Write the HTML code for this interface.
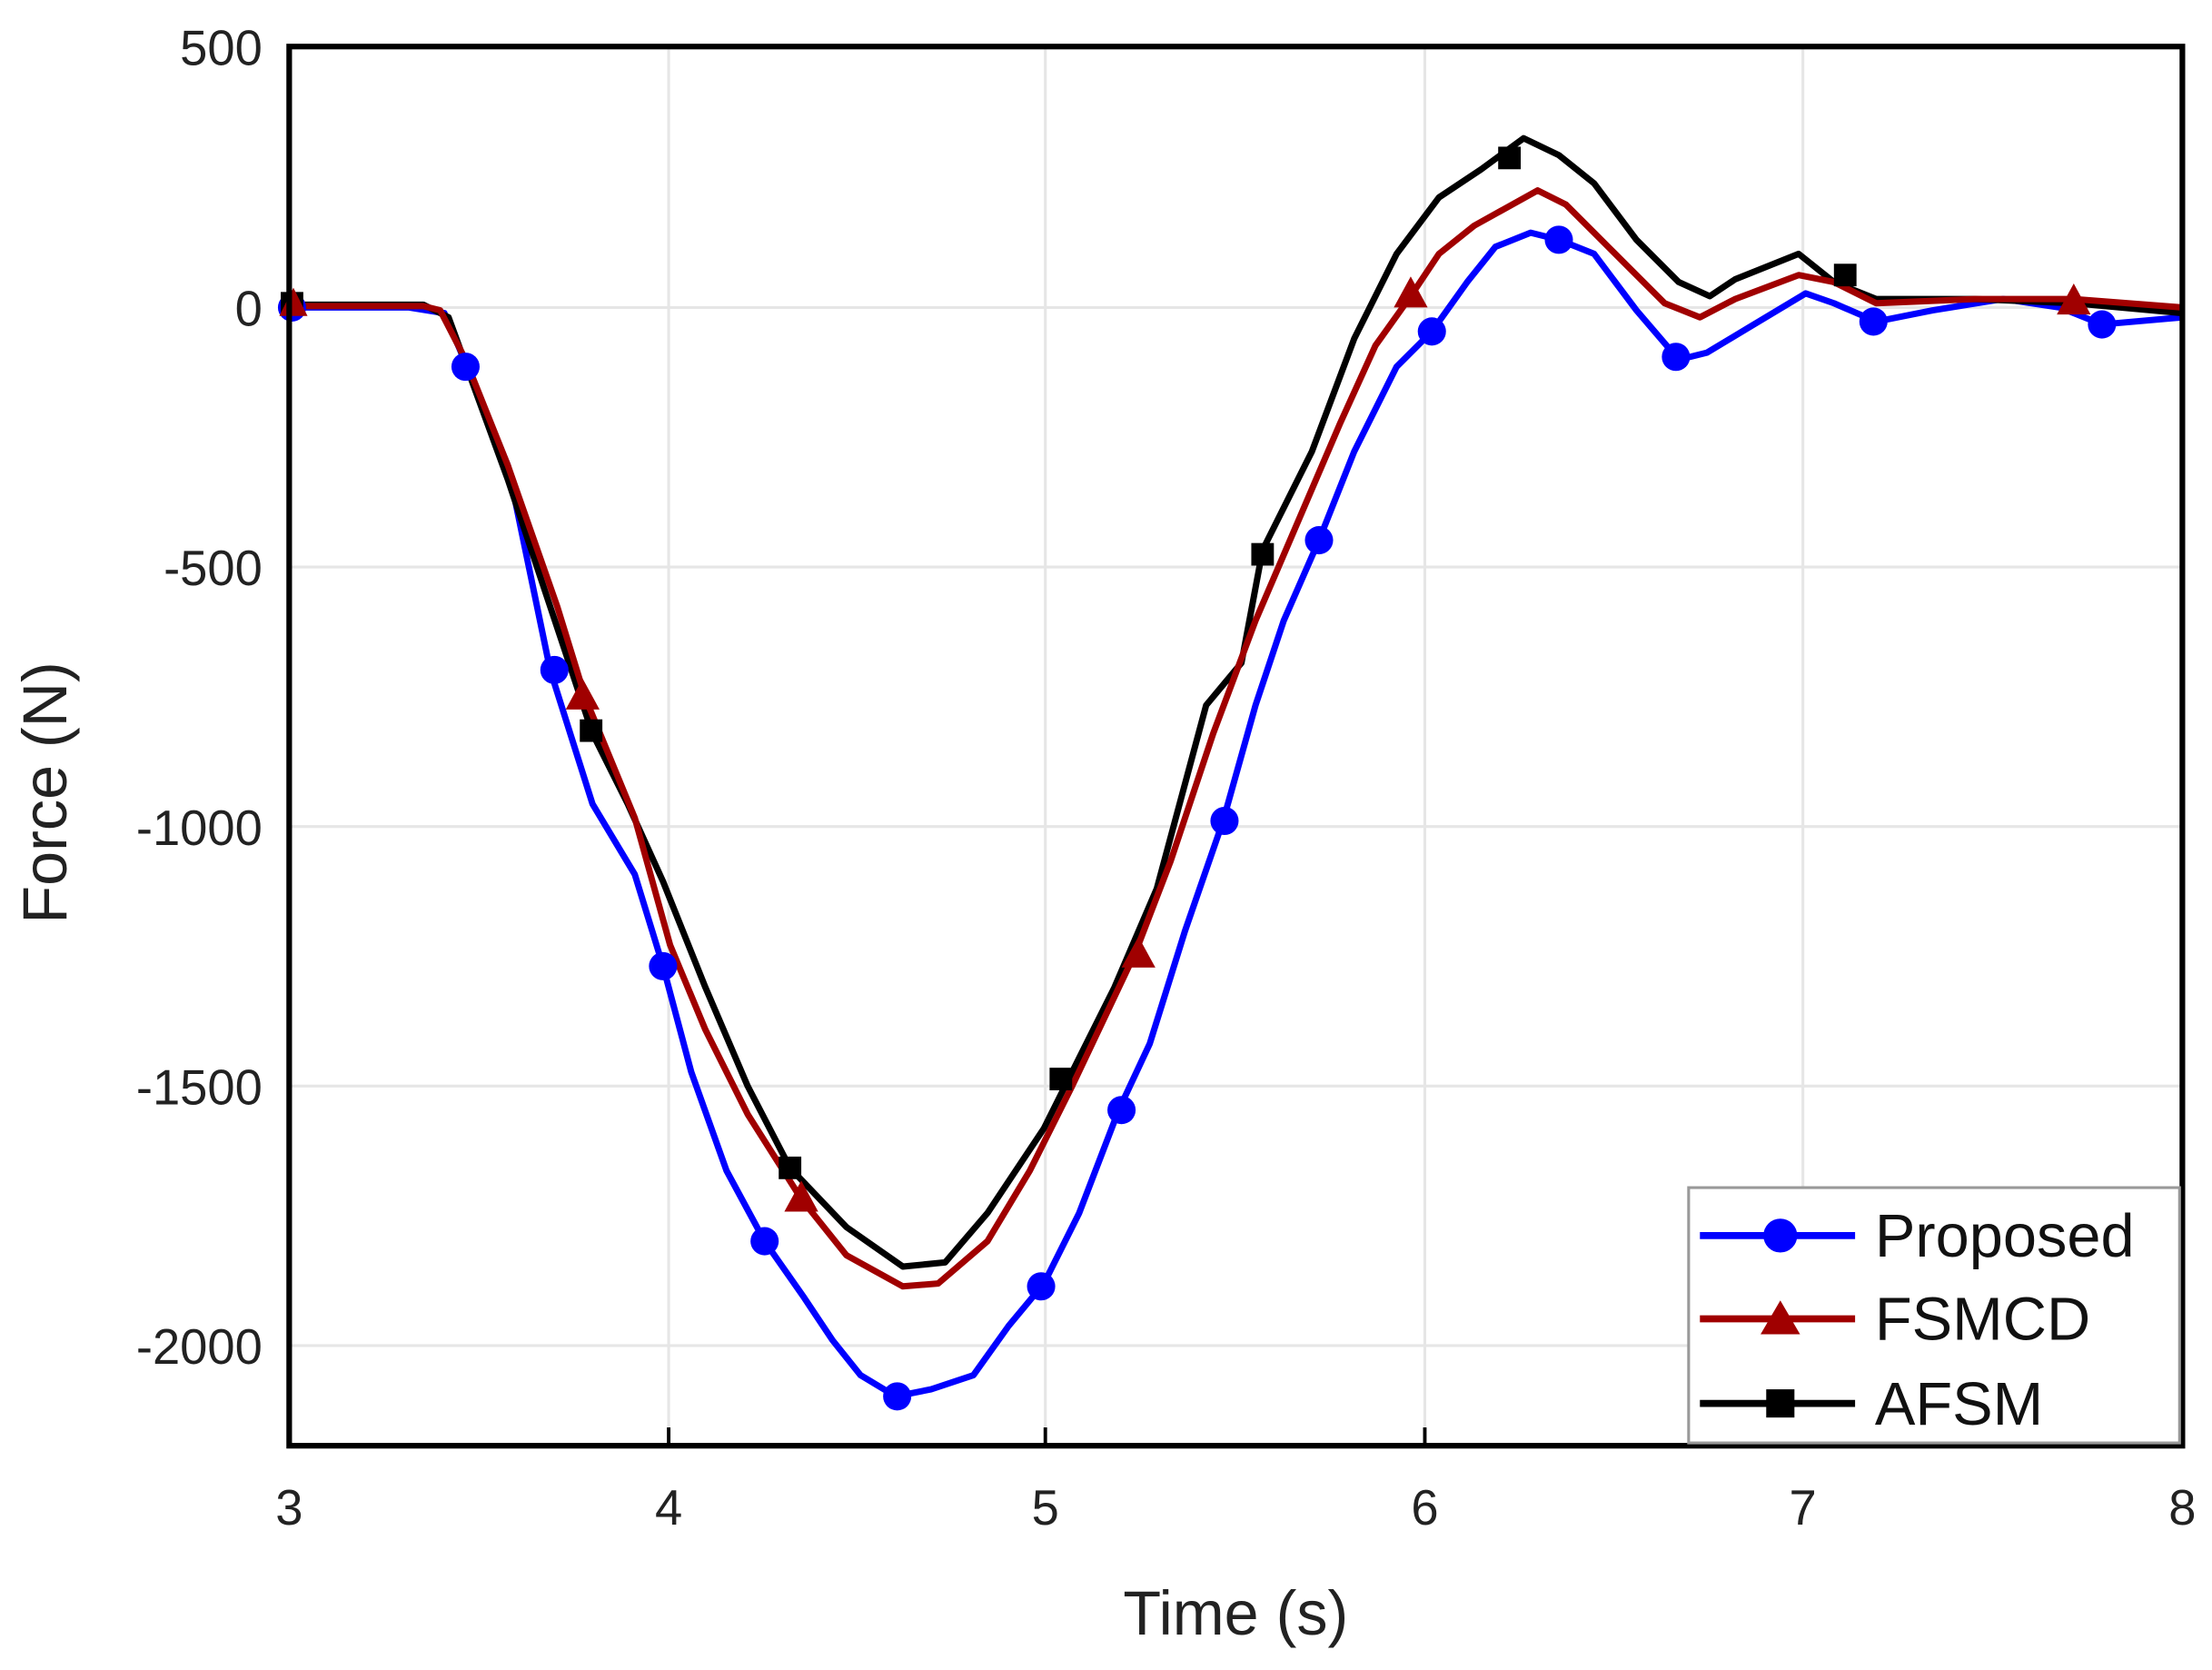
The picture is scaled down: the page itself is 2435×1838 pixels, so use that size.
<!DOCTYPE html>
<html><head><meta charset="utf-8"><style>
html,body{margin:0;padding:0;background:#fff;width:2435px;height:1838px;overflow:hidden}
svg{display:block}
text{font-family:"Liberation Sans",Arial,sans-serif}
</style></head><body>
<svg width="2435" height="1838" viewBox="0 0 1568 1184" preserveAspectRatio="none" xmlns="http://www.w3.org/2000/svg">
<rect width="1568" height="1184" fill="#fff"/>
<g stroke="#e6e6e6" stroke-width="2">
<line x1="474" y1="33" x2="474" y2="1025"/><line x1="741" y1="33" x2="741" y2="1025"/><line x1="1010" y1="33" x2="1010" y2="1025"/><line x1="1278" y1="33" x2="1278" y2="1025"/>
<line x1="205" y1="218" x2="1547" y2="218"/><line x1="205" y1="402" x2="1547" y2="402"/><line x1="205" y1="586" x2="1547" y2="586"/><line x1="205" y1="770" x2="1547" y2="770"/><line x1="205" y1="954" x2="1547" y2="954"/>
</g>
<g fill="none" stroke-width="4.5" stroke-linejoin="round">
<polyline stroke="#0000ff" points="205,218 290,218 315,222 332,262 360,330 390,475 420,570 450,620 470,685 490,760 515,830 542,880 570,920 590,950 610,975 635,990 660,985 690,975 715,940 740,910 765,860 793,787 815,740 840,660 867,582 890,500 910,440 935,383 960,320 990,260 1015,235 1040,200 1060,175 1085,165 1105,170 1130,180 1160,220 1190,255 1210,250 1240,232 1280,208 1300,215 1330,228 1370,220 1420,212 1460,218 1490,230 1547,225"/>
<polyline stroke="#000" points="205,216 300,216 318,225 360,340 420,520 445,570 470,625 500,700 530,770 560,828 600,870 640,898 670,895 700,860 740,800 760,760 790,700 820,630 855,500 880,470 895,390 930,320 960,240 990,180 1020,140 1050,120 1080,98 1105,110 1130,130 1160,170 1190,200 1212,210 1230,198 1275,180 1300,200 1330,212 1400,212 1470,215 1547,222"/>
<polyline stroke="#a00000" points="205,217 300,217 312,220 330,255 360,330 395,430 415,495 450,580 475,670 500,730 530,790 568,850 600,890 640,912 665,910 700,880 730,830 760,770 805,675 830,610 860,520 890,440 920,370 950,300 975,245 1000,210 1020,180 1045,160 1090,135 1110,145 1140,175 1180,215 1205,225 1230,212 1275,195 1300,200 1330,215 1400,212 1470,212 1547,218"/>
</g>
<g fill="#0000ff">
<circle cx="207" cy="218" r="10"/><circle cx="330" cy="260" r="10"/><circle cx="393" cy="475" r="10"/><circle cx="470" cy="685" r="10"/><circle cx="542" cy="880" r="10"/><circle cx="636" cy="990" r="10"/><circle cx="738" cy="912" r="10"/><circle cx="795" cy="787" r="10"/><circle cx="868" cy="582" r="10"/><circle cx="935" cy="383" r="10"/><circle cx="1015" cy="235" r="10"/><circle cx="1105" cy="170" r="10"/><circle cx="1188" cy="253" r="10"/><circle cx="1328" cy="228" r="10"/><circle cx="1490" cy="230" r="10"/>
</g>
<g fill="#000">
<rect x="199" y="207" width="16" height="16"/><rect x="411" y="510" width="16" height="16"/><rect x="552" y="820" width="16" height="16"/><rect x="744" y="757" width="16" height="16"/><rect x="887" y="385" width="16" height="16"/><rect x="1062" y="104" width="16" height="16"/><rect x="1300" y="187" width="16" height="16"/>
</g>
<g fill="#a00000">
<polygon points="208,204 198,224 218,224"/><polygon points="413,481 401,503 425,503"/><polygon points="568,837 556,859 580,859"/><polygon points="807,664 795,686 819,686"/><polygon points="1000,196 988,218 1012,218"/><polygon points="1470,201 1458,223 1482,223"/>
</g>
<rect x="205" y="33" width="1342" height="992" fill="none" stroke="#000" stroke-width="4"/>
<g stroke="#000" stroke-width="2.5">
<line x1="474" y1="1025" x2="474" y2="1012"/><line x1="741" y1="1025" x2="741" y2="1012"/><line x1="1010" y1="1025" x2="1010" y2="1012"/><line x1="1278" y1="1025" x2="1278" y2="1012"/>
</g>
<rect x="1197" y="842" width="348" height="181" fill="#fff" stroke="#999" stroke-width="2"/>
<line x1="1205" y1="876" x2="1315" y2="876" stroke="#0000ff" stroke-width="5"/><circle cx="1262" cy="876" r="12" fill="#0000ff"/>
<line x1="1205" y1="935" x2="1315" y2="935" stroke="#a00000" stroke-width="5"/><polygon points="1262,922 1248,946 1276,946" fill="#a00000"/>
<line x1="1205" y1="995" x2="1315" y2="995" stroke="#000" stroke-width="5"/><rect x="1252" y="985" width="20" height="20" fill="#000"/>
<g font-size="43" fill="#111">
<text x="1329" y="891">Proposed</text><text x="1329" y="950">FSMCD</text><text x="1329" y="1010">AFSM</text>
</g>
<g font-size="35" fill="#222" text-anchor="end">
<text x="186" y="46">500</text><text x="186" y="231">0</text><text x="186" y="415">-500</text><text x="186" y="599">-1000</text><text x="186" y="783">-1500</text><text x="186" y="967">-2000</text>
</g>
<g font-size="35" fill="#222" text-anchor="middle">
<text x="205" y="1081">3</text><text x="474" y="1081">4</text><text x="741" y="1081">5</text><text x="1010" y="1081">6</text><text x="1278" y="1081">7</text><text x="1547" y="1081">8</text>
</g>
<text x="876" y="1159" font-size="44" fill="#222" text-anchor="middle">Time (s)</text>
<text transform="translate(47,562) rotate(-90)" font-size="44" fill="#222" text-anchor="middle">Force (N)</text>
</svg>
</body></html>
